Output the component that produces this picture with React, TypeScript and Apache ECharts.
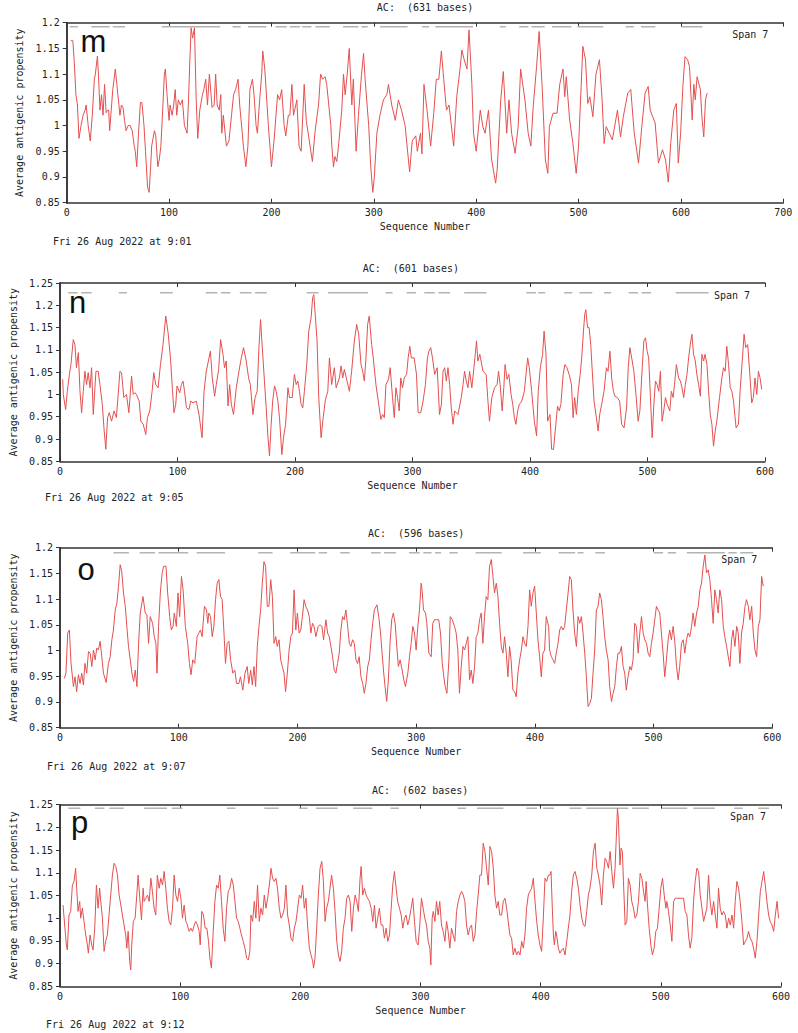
import React, { useEffect, useRef } from "react";
import * as echarts from "echarts";

// ---------- data (sequence position, average antigenic propensity) ----------
const mData: [number, number][] = [[4,1.165],[6,1.165],[7.5,1.12],[9,1.06],[10.5,1.04],[12,0.975],[14,1.0],[16,1.02],[18,1.03],[19,1.04],[21,1.0],[23,0.97],[25,1.02],[27,1.09],[28,1.1],[30,1.135],[31,1.1],[32.5,1.03],[34,1.06],[35.5,1.02],[37,1.08],[38.5,1.025],[40,1.03],[41,1.03],[42,0.99],[43.5,1.03],[45,1.07],[47.5,1.11],[49,1.08],[50.5,1.05],[52,1.02],[53.5,1.04],[55,1.035],[56.5,1.01],[58,0.99],[60,1.0],[62,1.0],[64,0.99],[66,0.96],[67,0.95],[68.4,0.92],[70,0.98],[72,1.045],[73.5,1.045],[75.5,1.0],[77,0.95],[79,0.88],[80.5,0.87],[82,0.92],[83,0.96],[85.7,0.99],[87,0.98],[89,0.92],[90.5,0.935],[92,0.96],[94,1.04],[95.4,1.1],[96.4,1.11],[98,1.06],[100,1.01],[101,1.04],[103,1.02],[104.5,1.04],[106,1.07],[107.5,1.02],[109,1.05],[111,1.04],[113,1.05],[115,1.0],[117.6,0.985],[119,1.05],[120,1.11],[121.5,1.19],[123,1.17],[124.8,1.19],[126.5,1.05],[128,0.975],[130,1.03],[132.6,1.06],[134,1.07],[135.8,1.09],[137.5,1.04],[139.4,1.1],[142,1.035],[144,1.04],[145.5,1.1],[147,1.04],[149,1.03],[150.5,1.06],[151.5,0.985],[153,1.02],[156,0.96],[158.5,0.97],[161,1.02],[163,1.06],[165,1.07],[167.4,1.09],[169,1.04],[172.6,0.96],[175,0.92],[177,0.96],[179,1.07],[181.4,1.09],[183,1.06],[185,1.0],[186.3,0.985],[188.5,1.05],[190.5,1.1],[191.5,1.145],[193.5,1.11],[197,1.0],[198.5,0.96],[200,0.92],[202.5,0.97],[206,1.06],[208,1.05],[210,1.07],[212.4,1.0],[214,0.98],[216.5,1.02],[218,1.02],[220,1.08],[221.5,1.02],[223.8,1.04],[224.8,1.05],[227,0.96],[229,0.95],[232,1.08],[234,1.01],[237,0.97],[240,0.93],[242.7,0.99],[246,1.04],[248,1.1],[250,1.09],[252.4,1.095],[254,1.08],[258,1.0],[259,0.96],[260.6,0.92],[262,0.94],[263.8,0.93],[265.5,0.96],[268.7,1.03],[270.4,1.1],[272,1.06],[274,1.1],[276,1.15],[278.5,1.04],[280,1.09],[282.7,0.95],[285,1.02],[288,1.1],[290,1.14],[291.5,1.09],[295,1.0],[297,0.92],[299,0.87],[300.5,0.9],[303,0.985],[306,1.02],[309.4,1.05],[312.7,1.06],[314.3,1.08],[317.5,1.04],[321,1.01],[324,1.05],[327,1.03],[330.6,1.0],[332,0.97],[335,0.91],[337.5,0.97],[341,0.98],[342.5,0.95],[345.6,0.985],[347,0.945],[349,1.08],[352,1.03],[355.5,0.96],[358.6,1.025],[361,1.09],[363.5,1.09],[366,1.145],[368.3,1.09],[371,1.03],[373.5,1.04],[378,0.96],[381,1.056],[384.5,1.115],[386,1.147],[388,1.13],[391,1.11],[393,1.186],[395.8,1.08],[397.4,0.985],[400,0.95],[404,1.03],[406.5,0.998],[408.7,0.985],[412,1.03],[415,0.935],[419,0.888],[420.5,0.914],[424,1.05],[426.5,1.105],[429.8,0.985],[432,1.05],[434.6,0.985],[438,0.946],[441,0.998],[443.4,1.11],[447.6,1.05],[450.8,0.985],[453.4,0.96],[455.7,1.037],[459,1.115],[461.5,1.183],[464.4,1.076],[467.6,0.933],[470,0.907],[471.5,0.998],[475,1.024],[479,1.024],[481.6,1.08],[484.8,1.11],[486.5,1.056],[488,1.095],[491.3,1.011],[494.5,0.965],[497.7,0.907],[500,0.96],[502.6,1.08],[504.2,1.154],[506.8,1.128],[509,1.043],[511,1.056],[514,1.017],[517,1.1],[520.4,1.128],[523,1.05],[525,0.965],[527,0.998],[530,0.985],[533,0.972],[538,1.03],[541,0.978],[543.7,1.017],[548,1.063],[551,1.07],[554.4,0.985],[558.6,0.927],[561.8,0.998],[565,1.063],[568,1.076],[570,1.03],[574.8,1.005],[578,0.927],[582,0.953],[585,0.933],[587.7,0.89],[590,0.965],[593,1.03],[595.5,1.043],[597.4,0.927],[599.7,0.985],[602,1.08],[604,1.134],[606.5,1.128],[608.4,1.115],[611,1.011],[612.6,1.08],[614,1.05],[615.8,1.095],[619,1.07],[620.5,1.017],[622.3,0.978],[624,1.05],[625.6,1.063]];

const nData: [number, number][] = [[2.3,1.034],[2.8,1.0],[4.8,0.966],[6.2,1.007],[8,1.045],[9.3,1.067],[11.3,1.123],[12.7,1.112],[14,1.06],[15.6,1.094],[17,1.007],[18.4,0.959],[19.8,1.007],[21.2,1.052],[22.6,1.022],[24,1.049],[25.5,1.015],[26.9,1.06],[28.3,0.955],[30.6,1.052],[32.5,1.052],[34,1.022],[36,0.978],[37.6,0.918],[39,0.877],[40.5,0.948],[41.9,0.959],[43.9,0.94],[46,0.963],[48,0.948],[51,1.052],[52.4,1.049],[54.3,0.993],[56.6,1.0],[58.6,0.959],[60.9,1.041],[62.3,1.0],[63.7,1.004],[65,1.0],[67.4,0.985],[68.8,0.94],[70.8,0.933],[73,0.91],[74.4,0.948],[76.4,0.963],[78.4,1.007],[79.8,1.049],[81.5,1.022],[83.5,1.015],[85.5,1.067],[87.7,1.112],[90,1.176],[92,1.138],[94,1.082],[95.7,1.011],[97,0.959],[98.5,0.978],[99.6,1.019],[101.9,1.004],[103.3,1.022],[104.7,1.03],[106,1.007],[107.6,0.97],[109.8,0.966],[111.2,0.985],[113.2,0.981],[116,0.985],[118.3,0.955],[120.9,0.903],[122.6,1.007],[124.5,1.052],[126.8,1.082],[128,1.097],[129.6,1.037],[131.6,0.996],[133,1.022],[135,1.056],[136.7,1.123],[138.7,1.09],[140,1.06],[141.5,1.075],[143,0.974],[144.4,1.022],[145.8,0.978],[147.7,0.955],[150,1.015],[152.3,1.052],[154.3,1.082],[156.2,1.105],[158.5,1.075],[160.5,1.037],[162,1.022],[164.2,0.955],[166,0.993],[167.8,1.007],[169.3,1.105],[170.7,1.168],[172,1.112],[174,1.03],[175.5,0.97],[177,0.903],[178.3,0.862],[179.7,0.933],[181,0.985],[182.6,1.019],[184,1.007],[185.4,0.985],[186.8,0.948],[188.8,0.865],[190.2,0.903],[192,0.933],[194,1.015],[195.3,0.993],[197.6,0.993],[199.5,1.045],[201,1.022],[202.4,1.03],[203.8,1.007],[205.2,0.978],[206.6,0.97],[208,1.007],[210,1.067],[211.7,1.142],[213.7,1.172],[215,1.217],[216,1.224],[217.4,1.172],[218.8,1.12],[220.2,0.993],[222.2,0.903],[224,0.948],[225.9,0.989],[227.9,1.007],[229.3,1.082],[231.2,1.022],[233.5,1.06],[235,1.015],[237.8,1.037],[239.2,1.064],[240.6,1.037],[242,1.056],[244.3,1.03],[246.3,1.007],[248.2,1.052],[250.5,1.12],[252.5,1.157],[254.2,1.135],[256.2,1.067],[257.6,1.052],[259,1.03],[260.4,1.082],[261.8,1.157],[263.2,1.176],[265.2,1.112],[266.6,1.082],[268.9,1.022],[271.2,0.978],[273.1,0.944],[274.6,0.955],[276,0.948],[277.4,1.022],[279.6,1.034],[281,1.06],[283,0.993],[284.5,0.948],[285.9,1.015],[287.3,0.993],[288.7,0.963],[290,1.037],[291.5,1.015],[293,1.037],[295,1.045],[296.3,1.082],[297.7,1.108],[299,1.082],[301.4,1.082],[303.4,1.045],[304.8,0.959],[307,0.959],[309,0.985],[311,1.022],[312.7,1.082],[314,1.097],[315.5,1.105],[317,1.082],[318.9,1.045],[321,1.06],[323,0.955],[324.6,0.978],[326,1.052],[327.4,1.06],[328.8,1.03],[330.2,1.06],[331.6,1.022],[333,0.97],[334.5,0.933],[335.9,0.963],[338.7,0.955],[341.5,0.993],[343,1.022],[344.3,1.052],[345.8,1.03],[347.2,1.015],[348.6,1.052],[350.5,1.015],[352.3,1.06],[353.4,1.09],[354.5,1.12],[355.6,1.075],[357.3,1.09],[360,1.052],[362.7,1.045],[364,0.993],[365.5,0.94],[367.5,0.993],[369.8,1.015],[372,1.022],[373.2,1.052],[374.6,1.022],[376.3,0.963],[377.7,1.015],[378.8,1.067],[380.5,1.034],[382,1.045],[383.9,1.0],[385.3,0.978],[386.7,0.948],[388,0.933],[389.5,0.963],[391,0.978],[393,0.985],[395.2,1.007],[398,1.082],[399.4,1.06],[401.4,1.007],[403.7,0.94],[405.6,0.907],[407,1.007],[408.8,1.06],[410.7,1.09],[412,1.142],[413.6,1.09],[415,0.94],[417,0.955],[418.4,0.877],[420,0.877],[422,0.933],[423.4,0.974],[424.9,0.963],[426.3,0.978],[428.2,1.045],[429.7,1.067],[431.4,1.06],[433.3,1.045],[435.3,1.022],[436.7,0.948],[438,0.993],[439.5,0.955],[441,1.007],[442.7,1.045],[444,1.082],[445.5,1.142],[446.6,1.18],[447.5,1.19],[449,1.15],[450.3,1.15],[451.7,1.112],[453,1.052],[454.5,0.985],[456.5,0.948],[458,0.918],[459.3,0.955],[461,0.978],[463,1.007],[465,1.06],[466.4,1.052],[468,1.097],[469.5,1.037],[471,1.007],[472.3,0.996],[474.3,0.993],[476.3,0.985],[478,0.933],[480,0.925],[482.2,0.97],[483.6,1.06],[485,1.105],[487,1.075],[488.4,1.052],[490.4,0.993],[492,0.94],[493.5,0.963],[495.5,1.06],[496.9,1.12],[498.3,1.127],[499.7,1.097],[501,1.082],[502.5,0.993],[504,0.903],[505.4,0.978],[506.8,1.03],[508.2,1.022],[509.6,1.007],[511,1.052],[512.4,0.94],[513.8,0.963],[515.3,0.993],[516.7,0.978],[519,0.963],[520.3,1.007],[521.8,0.993],[523,1.022],[524.6,1.067],[526.5,1.037],[528,1.03],[529.4,1.015],[530.8,0.993],[532.2,1.022],[533.6,1.045],[535,1.082],[536.4,1.112],[537.8,1.135],[539.2,1.09],[540.7,1.075],[542,1.045],[543.5,1.022],[545,0.996],[546.3,1.09],[547.7,1.075],[549,1.09],[550.6,1.067],[552,1.007],[553.4,0.955],[554.8,0.933],[556.2,0.884],[557.6,0.918],[559,0.94],[561.3,0.993],[563.3,1.037],[564.7,1.06],[566.1,1.052],[567.5,1.108],[569,1.067],[570.4,1.015],[571.8,1.007],[573.2,0.985],[575.4,0.925],[577.4,0.933],[578.8,1.007],[580.8,1.082],[582.2,1.135],[583.6,1.105],[585.3,1.112],[587.3,1.037],[588.7,0.981],[590.1,0.993],[591.5,1.037],[593,1.0],[594.4,1.052],[595.8,1.037],[597.2,1.011]];

const oData: [number, number][] = [[3.7,0.946],[5,0.956],[6.5,1.034],[7.9,1.04],[9.3,0.975],[11.3,0.93],[12.7,0.949],[14,0.92],[15.5,0.953],[16.9,0.936],[18.3,0.956],[19.7,0.933],[21,0.975],[22.5,0.956],[24,0.998],[25.4,0.995],[26.8,0.969],[28.2,1.001],[29.6,0.982],[31,1.005],[32.4,1.001],[33.8,1.018],[35.2,0.988],[36.6,0.956],[38.9,0.938],[40.8,0.975],[42.3,0.988],[43.7,1.021],[45,1.04],[46.5,1.079],[47.9,1.092],[49.3,1.125],[50.7,1.167],[52,1.154],[53.5,1.112],[55,1.086],[56.3,1.047],[57.7,1.008],[59.2,0.982],[60.6,0.956],[62,0.94],[63.4,0.962],[64.8,0.93],[66.2,1.014],[67.6,1.073],[69.9,1.105],[71.8,1.073],[73.2,1.069],[74.6,1.014],[76,1.066],[78,1.053],[79.4,1.027],[80.8,1.014],[81.7,0.956],[83,1.047],[84.5,1.112],[86,1.15],[87.3,1.164],[89.3,1.164],[90.7,1.112],[92.4,1.066],[93.8,1.04],[95.2,1.047],[96.3,1.073],[98,1.047],[99.4,1.112],[100.8,1.066],[102.3,1.144],[103.7,1.118],[105.6,1.047],[107.6,1.014],[109,0.975],[110.4,0.953],[111.8,0.982],[113.5,0.975],[115.5,1.027],[116.9,1.034],[118.3,1.04],[119.7,1.027],[121.7,1.086],[123.4,1.079],[124.5,1.053],[125.4,1.073],[126.8,1.066],[128.2,1.027],[129.6,1.047],[131,1.099],[132.4,1.131],[133.8,1.138],[135.2,1.105],[136.6,1.099],[138,1.04],[139.4,0.975],[140.8,1.014],[142.3,1.018],[143.7,0.982],[145.6,0.956],[147.3,0.962],[148.7,0.936],[150.7,0.936],[152,0.949],[154,0.923],[155.8,0.956],[157.7,0.969],[159,0.936],[160.6,0.962],[162,0.933],[163.4,0.969],[164.8,0.93],[166.2,1.008],[167.6,1.047],[169,1.079],[170.4,1.131],[171.8,1.173],[173.2,1.164],[174.6,1.086],[176,1.086],[177.5,1.138],[178.9,1.105],[180.3,1.014],[181.7,1.027],[183,1.008],[184.5,1.021],[185.9,0.982],[187.3,0.969],[188.7,0.956],[190,0.92],[191.5,0.956],[193,1.001],[194.4,1.027],[195.8,1.034],[197.2,1.118],[198.6,1.04],[200,1.073],[201.4,1.034],[202.8,1.04],[204.2,1.066],[205.6,1.099],[207,1.086],[208.5,1.079],[210,1.066],[211.3,1.034],[212.7,1.053],[214,1.047],[215.5,1.027],[217.5,1.047],[219,1.05],[220.6,1.047],[222,1.021],[224,1.06],[225.4,1.034],[226.8,1.027],[228.2,1.008],[229.6,0.988],[231,0.962],[232.4,0.956],[233.8,0.975],[235.2,0.995],[236.6,1.04],[238,1.066],[239.4,1.06],[240.8,1.079],[242.3,1.047],[243.7,1.014],[245,1.008],[246.5,1.021],[247.9,1.014],[249.3,0.982],[250.7,0.975],[252,0.988],[253.5,0.949],[255,0.936],[256.3,0.917],[257.7,0.936],[259.2,0.969],[260.6,0.982],[262,1.021],[263.4,1.053],[264.8,1.079],[267,1.089],[268.5,1.066],[270,1.034],[271.3,0.995],[272.7,0.956],[273.8,0.93],[275.2,0.901],[276.6,0.943],[278,1.014],[279.4,1.06],[280.8,1.073],[282.3,1.053],[283.7,1.008],[285,0.969],[286.5,0.982],[288.2,0.962],[289.6,0.943],[291,0.93],[293,0.956],[294.4,0.988],[295.8,1.014],[297.2,1.047],[298.6,1.034],[300,1.001],[301.4,1.047],[302.8,1.079],[304.2,1.131],[305,1.118],[306.2,1.079],[307.9,1.073],[309,1.053],[310.7,0.995],[312.7,0.988],[314,1.053],[315.5,1.06],[316.9,1.06],[319,1.06],[320.5,1.034],[322,0.975],[323.3,0.949],[324.5,0.93],[325.9,0.917],[327.6,0.982],[328.7,1.066],[330.4,1.06],[332.3,1.047],[333.7,1.034],[335.1,1.001],[336.5,0.917],[338,0.969],[339.4,1.008],[340.8,1.001],[342.2,1.014],[343.6,1.027],[345,0.943],[346.4,0.962],[347.8,0.936],[349.2,0.969],[350.6,1.027],[352,1.034],[353.4,1.06],[354.8,1.073],[356.2,1.014],[357.6,1.066],[359,1.105],[360.4,1.099],[361.8,1.164],[363.3,1.177],[364.7,1.144],[366,1.112],[367.5,1.131],[368.9,1.105],[370.3,1.053],[371.7,1.008],[373.1,0.995],[374.5,1.027],[375.9,0.995],[377.3,0.949],[378.7,1.008],[380,0.982],[381.5,0.923],[383,0.92],[384.3,0.91],[385.7,0.956],[387.2,0.982],[388.6,1.001],[390,1.027],[391.4,1.014],[392.8,1.008],[394.2,1.047],[395.6,1.118],[397,1.086],[398.4,1.112],[399.8,1.125],[401.2,1.073],[402.6,1.021],[404,0.988],[405.4,0.949],[406.8,0.995],[408.2,1.001],[409.6,1.066],[411.6,1.047],[412.4,1.001],[413.9,0.988],[415.3,0.982],[416.7,0.975],[418,0.995],[419.5,1.014],[420.9,1.04],[422.3,1.047],[423.7,1.04],[425.1,1.047],[426.5,1.079],[428,1.112],[429.3,1.144],[430.7,1.138],[432.1,1.079],[433.5,1.034],[435,1.008],[436.4,1.066],[437.8,1.053],[439.2,1.066],[440.6,1.034],[442,0.995],[443.4,0.949],[444.8,0.891],[446.2,0.897],[447.6,0.907],[449,0.956],[450.4,1.001],[451.8,1.079],[453.2,1.086],[454.6,1.112],[456,1.099],[457.4,1.066],[458.8,1.027],[460.2,1.001],[461.7,0.982],[463,0.93],[464.5,0.901],[465.9,0.917],[467.3,0.93],[468.7,0.969],[470,0.995],[471.5,0.995],[472.9,1.008],[474.3,0.969],[475.7,0.956],[477,0.923],[478.5,0.949],[480,0.969],[481.3,0.962],[482.7,0.982],[484.1,1.053],[485.5,1.047],[487,0.995],[488.4,1.034],[489.8,1.066],[491.2,1.034],[492.6,1.021],[494,1.014],[495.4,0.995],[496.8,0.988],[498.2,1.014],[499.6,1.034],[501,1.06],[502.4,1.086],[503.8,1.079],[505.2,1.073],[506.6,1.034],[508,0.995],[509.4,0.949],[510.8,0.982],[512.3,1.021],[513.6,1.04],[515,1.021],[516.5,1.047],[518,1.014],[519.3,0.969],[520.7,0.943],[522,0.969],[523.5,1.014],[525,1.021],[526.3,0.995],[527.7,1.021],[529.1,1.034],[530.5,1.027],[532,1.047],[533.3,1.073],[534.7,1.047],[536.2,1.073],[537.6,1.086],[539,1.118],[540.4,1.131],[541.8,1.164],[543.2,1.186],[544.6,1.151],[546,1.157],[547.4,1.138],[548.8,1.099],[550.2,1.053],[551.6,1.118],[553,1.099],[554.4,1.073],[555.8,1.118],[557.3,1.099],[558.7,1.047],[560,1.027],[561.5,1.008],[562.9,0.988],[564.3,0.969],[565.7,1.021],[567,1.04],[568.5,1.008],[570,1.047],[571.3,1.034],[572.7,0.975],[574.1,1.034],[575.5,1.053],[577,1.086],[578.3,1.099],[579.8,1.086],[581.1,1.06],[582.6,1.086],[584,1.034],[585.4,1.001],[586.8,0.988],[588.2,1.047],[589.6,1.06],[591,1.144],[592.4,1.125]];

const pData: [number, number][] = [[2.5,1.029],[3.9,0.985],[5.3,0.941],[6.1,0.93],[7.5,1.007],[8.9,1.015],[10.3,1.073],[11.7,1.081],[13,1.11],[13.9,1.066],[15,1.015],[16.4,1.037],[17.2,1.0],[18.6,1.022],[20,0.993],[21.4,0.963],[22.8,0.941],[23.6,0.923],[25,0.963],[26.4,0.941],[27.5,0.93],[28.9,0.978],[30.3,1.073],[31.7,1.022],[33,1.066],[33.9,1.037],[35.3,1.0],[36.7,0.927],[38,0.949],[39.4,0.963],[40.8,1.007],[42.2,1.051],[43.6,1.095],[45,1.121],[46.4,1.114],[47.8,1.095],[49.2,1.051],[50.6,1.029],[51.9,1.007],[53.3,0.985],[54.7,0.963],[55.6,0.934],[56.7,0.971],[58,0.905],[58.9,0.886],[59.7,0.941],[61,0.993],[62.5,1.0],[63.9,1.051],[65,1.095],[66.4,1.044],[67.8,0.996],[69.2,1.066],[70,1.037],[71.4,1.044],[72.8,1.051],[74.2,1.037],[75.6,1.088],[76.9,1.059],[78.3,1.022],[79.7,1.007],[81,1.095],[82.5,1.066],[83.9,1.088],[85.3,1.073],[86.7,1.103],[88,1.066],[89.4,1.022],[90.8,0.993],[92.2,0.985],[93.6,1.022],[95,1.095],[96.4,1.051],[97.8,1.037],[99.2,1.066],[100.6,1.044],[101.9,1.0],[103.3,1.029],[104.7,0.993],[106,0.985],[107.5,0.971],[108.9,0.978],[110.3,0.971],[111.7,0.985],[113,0.993],[114.4,0.985],[115.8,0.971],[116.7,0.941],[118,1.015],[119.4,1.007],[120.8,0.978],[122.2,0.978],[123.6,0.949],[124.7,0.912],[126,0.89],[127.5,0.971],[128.9,1.037],[130.3,1.073],[131.7,1.066],[133,1.095],[134.4,1.037],[135.8,0.978],[137.2,0.949],[138.6,1.022],[140,1.059],[141.4,1.066],[142.8,1.088],[144.2,1.073],[145.6,1.037],[146.9,1.0],[148.3,0.993],[149.7,0.978],[151,0.963],[152.5,0.949],[153.9,0.934],[155.3,0.912],[156.7,0.908],[158,0.927],[158.9,1.007],[160.3,0.993],[161.7,1.037],[163,1.0],[164.4,1.073],[165.8,0.993],[167.2,1.022],[168.6,1.007],[170,1.051],[171.4,1.022],[172.8,1.044],[174.2,1.073],[175.6,1.11],[176.9,1.088],[178.3,1.081],[179.7,1.088],[181,1.066],[182.5,1.022],[183.9,1.0],[185.3,1.007],[186.7,1.022],[188,1.073],[189.4,1.007],[190.8,0.985],[192.2,0.956],[193.6,0.949],[195,0.978],[196.4,0.993],[197.8,1.022],[199.2,1.051],[200.6,1.044],[201.9,1.073],[203.3,1.022],[204.7,1.044],[206,0.985],[207.5,0.934],[208.9,0.919],[210.3,0.905],[211,0.89],[212.2,0.912],[213.6,0.978],[215,1.051],[216.4,1.11],[217.8,1.125],[219.2,1.081],[220.6,0.993],[221.9,1.022],[223.3,1.037],[224.7,1.066],[226,1.095],[227.5,1.066],[228.9,1.015],[230.3,0.949],[231.7,0.919],[233,0.905],[234.4,0.927],[235.8,0.978],[237.2,1.0],[238.6,1.044],[240,1.051],[241.4,1.037],[242.8,0.971],[244.2,1.022],[245.6,1.051],[246.9,1.037],[248.3,1.015],[249.7,1.088],[250.6,1.114],[251.9,1.051],[253.3,1.066],[254.7,1.051],[256,1.044],[257.5,1.037],[258.9,1.022],[260.3,0.993],[261.7,1.029],[263,0.978],[264.4,1.0],[265.8,1.022],[267.2,0.985],[268.6,0.985],[270,0.956],[271.4,0.978],[272.8,0.949],[274.2,0.963],[275.6,1.022],[276.9,1.073],[278.3,1.103],[279.7,1.066],[281,1.037],[282.5,1.022],[283.9,1.007],[285.3,0.978],[286.7,1.0],[288,1.007],[289.4,0.985],[290.8,1.0],[292.2,1.022],[293.6,1.044],[295,0.993],[296.4,0.949],[298,0.941],[299.4,0.985],[300.8,1.044],[302.2,1.022],[303.6,1.0],[305,0.985],[306.4,0.949],[307.8,0.934],[308.6,0.897],[309.7,1.0],[310.6,1.015],[312,0.993],[313.3,1.037],[314.7,1.007],[316,1.037],[317.5,0.985],[318.9,0.971],[320.3,0.949],[321.7,0.993],[323,0.971],[324.4,0.934],[325.8,0.978],[327.2,0.963],[328.6,0.949],[330,1.015],[331.4,1.037],[332.8,1.051],[334.2,1.059],[335.6,1.051],[336.9,1.037],[338.3,0.985],[339.7,0.963],[341,0.978],[342.5,0.985],[343.9,0.949],[345.3,0.963],[346.7,1.015],[348,1.051],[349.4,1.095],[350.8,1.095],[352.2,1.165],[353.6,1.147],[355,1.11],[356.4,1.073],[357.8,1.158],[359.2,1.147],[360.6,1.11],[361.9,1.051],[363.3,1.022],[364.7,1.037],[366,1.007],[367.5,1.007],[368.9,1.037],[370.3,1.044],[371.7,1.022],[373,0.993],[374.4,0.963],[375.8,0.956],[377.2,0.919],[378.6,0.934],[380,0.919],[381.4,0.927],[382.8,0.919],[384.2,0.949],[385.6,0.934],[386.9,0.963],[388.3,1.022],[389.7,1.051],[391,1.059],[392.5,1.066],[393.9,1.088],[395.3,1.037],[396.7,0.993],[398,0.963],[399.4,0.941],[400.8,0.927],[402.2,1.0],[403.6,1.088],[405,1.081],[406.4,1.095],[407.8,1.095],[408.6,1.103],[409.7,1.022],[410.6,0.963],[411.4,0.941],[412.5,0.971],[413.3,0.963],[414.7,0.934],[416,0.923],[417.5,0.93],[418.9,0.934],[420.3,0.919],[421.7,0.949],[423,0.978],[424.4,1.007],[425.8,1.059],[427.2,1.095],[428.6,1.103],[430,1.088],[431.4,1.066],[432.8,1.029],[434.2,1.0],[435.6,0.985],[436.9,0.982],[438.3,1.015],[439.7,1.051],[441,1.066],[442.5,1.095],[443.9,1.147],[445.3,1.165],[446.7,1.11],[448,1.095],[449.4,1.073],[450.8,1.029],[452.2,1.095],[453.6,1.132],[455,1.125],[456.4,1.11],[457.8,1.147],[459.2,1.103],[460.6,1.066],[461.9,1.11],[462.8,1.169],[463.9,1.242],[464.7,1.22],[466,1.117],[466.9,1.154],[468,1.147],[468.9,1.081],[470.3,0.985],[471.7,0.993],[473,1.088],[474.4,1.073],[475.8,1.037],[477.2,1.022],[478.6,1.0],[480,1.007],[481.4,1.037],[482.8,1.099],[484.2,1.088],[485.6,1.059],[486.9,1.037],[487.8,1.081],[488.9,1.029],[490.3,0.978],[491.7,0.941],[493,0.919],[494.4,0.934],[495.8,0.971],[497.2,0.978],[498.6,1.022],[500,1.066],[501.4,1.088],[502.8,1.051],[504.2,1.022],[505,1.037],[506.4,1.015],[507.8,0.985],[509.2,0.949],[510.6,1.037],[511.9,1.044],[513.3,1.044],[516,1.044],[518.9,1.044],[520.3,1.015],[521.7,1.007],[523,0.963],[524.4,0.934],[525.8,0.956],[527.2,1.037],[528.6,1.081],[530,1.11],[531.4,1.103],[532.8,1.051],[534.2,1.022],[535.6,0.993],[536.9,1.007],[538.3,1.022],[539.7,1.095],[541,1.037],[542.5,1.007],[543.9,1.037],[545.3,1.007],[546.7,0.978],[548,1.066],[549.4,1.022],[550.8,1.007],[552.2,1.015],[553.6,1.007],[555,0.978],[556.4,1.0],[557.8,0.985],[559.2,1.007],[560.6,0.978],[561.9,1.037],[563.3,1.081],[564.7,1.066],[566,1.037],[567.5,0.993],[568.9,0.941],[570.3,0.949],[571.7,0.956],[573,0.971],[574.4,0.956],[575.8,0.949],[577.2,0.934],[578.6,0.912],[580,0.949],[581.4,1.007],[582.8,1.059],[584.2,1.081],[585.6,1.103],[586.9,1.073],[588.3,1.037],[589.7,1.007],[591,0.993],[592.5,0.985],[593.9,0.971],[595.3,1.007],[596.7,1.037],[598,1.0]];

// antigenic regions drawn as grey segments along the top of each panel
const mSites: [number, number][] = [[3,11],[24,42],[45,57],[93,150],[162,170],[177,195],[204,215],[218,228],[230,239],[243,257],[270,285],[288,294],[306,333],[347,354],[360,397],[423,429],[442,451],[454,467],[474,493],[499,524],[546,554],[561,575],[601,621]];
const nSites: [number, number][] = [[7,15],[18,27],[50,57],[85,96],[124,134],[137,145],[153,163],[166,176],[210,220],[228,262],[277,283],[295,303],[310,319],[322,332],[344,363],[397,405],[407,413],[429,436],[442,453],[463,469],[484,492],[495,503],[524,552]];
const oSites: [number, number][] = [[45,58],[67,80],[83,108],[115,139],[167,179],[194,215],[218,225],[236,244],[262,270],[273,283],[294,303],[306,313],[316,321],[328,335],[350,372],[390,405],[420,434],[436,441],[451,459],[500,508],[512,519],[528,560],[563,570],[573,584]];
const pSites: [number, number][] = [[7,17],[29,37],[41,53],[70,89],[93,102],[139,146],[170,182],[199,206],[213,231],[244,260],[275,282],[331,338],[347,369],[388,397],[402,411],[424,434],[438,473],[476,490],[501,522],[527,545],[561,568],[581,590]];

const siteLevels = [1.192, 1.228, 1.19, 1.242];
const xMaxes = [700, 600, 600, 600];
const yMaxes = [1.2, 1.25, 1.2, 1.25];
const yMin = 0.85;
const baseCounts = [631, 601, 596, 602];
const panelLetters = ["m", "n", "o", "p"];
const runTimes = ["9:01", "9:05", "9:07", "9:12"];

// ---------- layout ----------
const grids = [
  { left: 66.7, top: 22.7, width: 716.6, height: 180 },
  { left: 56.7, top: 283, width: 708.3, height: 178.3 },
  { left: 60, top: 547.7, width: 712.3, height: 180 },
  { left: 59.3, top: 804.7, width: 721.7, height: 181.6 },
];
const titleY = [7.5, 268.5, 533, 790];
const dateXY = [[53, 241], [45, 497.5], [47, 766], [46, 1024.5]];
const letterXY = [[80.5, 41], [69, 302], [77.5, 569], [71, 822.5]];

const MONO = "'DejaVu Sans Mono', monospace";
const AXIS = "#333";
const TEXT = "#222";

export default function App() {
  const ref = useRef<HTMLDivElement>(null);
  useEffect(() => {
    if (!ref.current) return;
    const chart = echarts.init(ref.current, undefined, { renderer: "svg" });
    const datas = [mData, nData, oData, pData];
    const sites = [mSites, nSites, oSites, pSites];

    const xAxis: any[] = [];
    const yAxis: any[] = [];
    const series: any[] = [];
    const graphic: any[] = [];

    grids.forEach((g, i) => {
      const common = {
        type: "value",
        gridIndex: i,
        min: 0,
        max: xMaxes[i],
        interval: 100,
        splitLine: { show: false },
        axisLine: { show: true, lineStyle: { color: AXIS, width: 1.5 } },
        axisTick: { show: true, inside: true, length: 4, lineStyle: { color: AXIS, width: 1 } },
      };
      xAxis.push({
        ...common,
        position: "bottom",
        name: "Sequence Number",
        nameLocation: "middle",
        nameGap: 19,
        nameTextStyle: { fontFamily: MONO, fontSize: 10, color: TEXT },
        axisLabel: { fontFamily: MONO, fontSize: 10, color: TEXT, margin: 5 },
      });
      xAxis.push({ ...common, position: "top", axisLabel: { show: false } });

      const ycommon = {
        type: "value",
        gridIndex: i,
        min: yMin,
        max: yMaxes[i],
        interval: 0.05,
        splitLine: { show: false },
        axisLine: { show: true, lineStyle: { color: AXIS, width: 1.5 } },
      };
      yAxis.push({
        ...ycommon,
        position: "left",
        name: "Average antigenic propensity",
        nameLocation: "middle",
        nameGap: 42,
        nameTextStyle: { fontFamily: MONO, fontSize: 10, color: TEXT },
        axisTick: { show: false },
        axisLabel: {
          fontFamily: MONO,
          fontSize: 10,
          color: TEXT,
          margin: 7,
          formatter: (v: number) => String(+v.toFixed(2)),
        },
      });
      yAxis.push({
        ...ycommon,
        position: "right",
        axisLabel: { show: false },
        axisTick: { show: true, inside: true, length: 4, lineStyle: { color: AXIS, width: 1 } },
      });

      const siteData: any[] = [];
      sites[i].forEach(([s, e]) => {
        siteData.push([s, siteLevels[i]], [e, siteLevels[i]], [e, "-"]);
      });
      series.push({
        type: "line",
        xAxisIndex: 2 * i,
        yAxisIndex: 2 * i,
        data: siteData,
        symbol: "none",
        connectNulls: false,
        lineStyle: { color: "#b4b4b4", width: 1.5 },
        silent: true,
      });
      series.push({
        type: "line",
        xAxisIndex: 2 * i,
        yAxisIndex: 2 * i,
        data: datas[i],
        symbol: "none",
        lineStyle: { color: "#e45050", width: 1 },
        silent: true,
      });

      graphic.push({
        type: "text",
        x: g.left + g.width / 2,
        y: titleY[i],
        style: {
          text: `AC:  (${baseCounts[i]} bases)`,
          fontFamily: MONO,
          fontSize: 10,
          fill: TEXT,
          align: "center",
          verticalAlign: "middle",
        },
      });
      graphic.push({
        type: "text",
        x: g.left + g.width - 15,
        y: g.top + 12,
        style: {
          text: "Span 7",
          fontFamily: MONO,
          fontSize: 10,
          fill: TEXT,
          align: "right",
          verticalAlign: "middle",
        },
      });
      graphic.push({
        type: "text",
        x: dateXY[i][0],
        y: dateXY[i][1],
        style: {
          text: `Fri 26 Aug 2022 at ${runTimes[i]}`,
          fontFamily: MONO,
          fontSize: 10,
          fill: TEXT,
          align: "left",
          verticalAlign: "middle",
        },
      });
      graphic.push({
        type: "text",
        x: letterXY[i][0],
        y: letterXY[i][1],
        style: {
          text: panelLetters[i],
          fontFamily: "'Liberation Sans', Arial, sans-serif",
          fontSize: 31,
          fill: "#111",
          align: "left",
          verticalAlign: "middle",
        },
      });
    });

    chart.setOption({
      animation: false,
      backgroundColor: "#fff",
      grid: grids.map((g) => ({ ...g, show: false, containLabel: false })),
      xAxis,
      yAxis,
      series,
      graphic,
    });
    return () => chart.dispose();
  }, []);

  return (
    <div
      ref={ref}
      style={{ position: "absolute", left: 0, top: 0, width: 798, height: 1033 }}
    />
  );
}
